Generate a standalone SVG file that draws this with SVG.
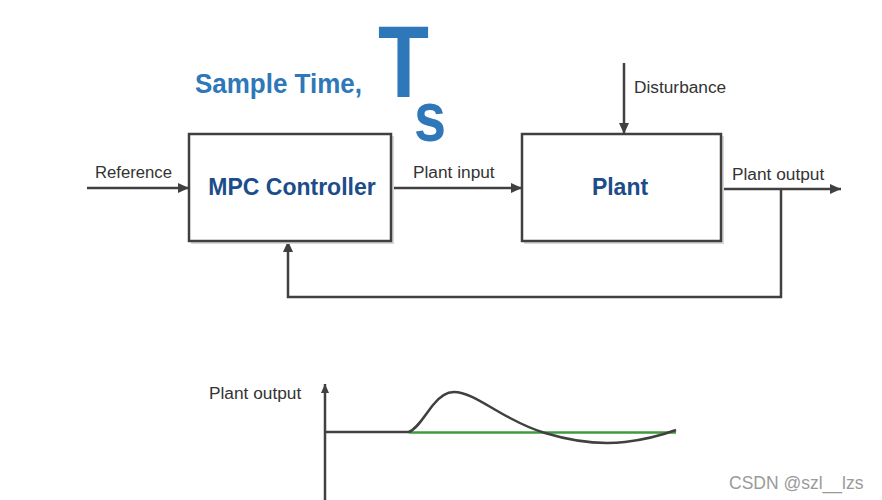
<svg xmlns="http://www.w3.org/2000/svg" width="882" height="500" viewBox="0 0 882 500">
<defs>
<marker id="arr" markerUnits="userSpaceOnUse" markerWidth="12" markerHeight="12" refX="11" refY="6" orient="auto">
<path d="M0,1 L11,6 L0,11 z" fill="#404040"/>
</marker>
<marker id="arrs" markerUnits="userSpaceOnUse" markerWidth="10" markerHeight="10" refX="9" refY="5" orient="auto">
<path d="M0,1 L9,5 L0,9 z" fill="#404040"/>
</marker>
<style>
.ln{fill:none;stroke:#404040;stroke-width:2.5}
.box{fill:#fff;stroke:#404040;stroke-width:2.5}
.sh{fill:#d8d8d8}
.lbl{font-family:"Liberation Sans",Arial,sans-serif;font-size:17.3px;fill:#333}
.nm{font-family:"Liberation Sans",Arial,sans-serif;font-size:23px;font-weight:bold;fill:#1c4c8a;text-anchor:middle}
.ts{font-family:"Liberation Sans",Arial,sans-serif;font-weight:bold;fill:#2e77b8}
</style>
</defs>
<rect width="882" height="500" fill="#fff"/>
<g id="title">
<text class="ts" x="195" y="93" font-size="27" textLength="167" lengthAdjust="spacingAndGlyphs">Sample Time,</text>
<text class="ts" x="378" y="97" font-size="102" textLength="51" lengthAdjust="spacingAndGlyphs">T</text>
<text class="ts" x="414" y="141" font-size="70" textLength="32" lengthAdjust="spacingAndGlyphs">s</text>
</g>
<g id="connectors">
<path class="ln" d="M87,188 H189" marker-end="url(#arr)"/>
<path class="ln" d="M391,188 H522" marker-end="url(#arr)"/>
<path class="ln" d="M721,189 H841" marker-end="url(#arr)"/>
<path class="ln" d="M624,63 V134" marker-end="url(#arr)"/>
<path class="ln" d="M781,189 V297 H288 V241" marker-end="url(#arr)"/>
<text class="lbl" x="95" y="178" textLength="77" lengthAdjust="spacingAndGlyphs">Reference</text>
<text class="lbl" x="413" y="178">Plant input</text>
<text class="lbl" x="732" y="180">Plant output</text>
<text class="lbl" x="634" y="93">Disturbance</text>
</g>
<g id="mpc">
<rect class="sh" x="191" y="136" width="203" height="108"/>
<rect class="box" x="189" y="134" width="202" height="107"/>
<text class="nm" x="292" y="195">MPC Controller</text>
</g>
<g id="plant">
<rect class="sh" x="524" y="136" width="200" height="108"/>
<rect class="box" x="522" y="134" width="199" height="107"/>
<text class="nm" x="620" y="195">Plant</text>
</g>
<g id="chart">
<text class="lbl" x="209" y="399" font-size="17.5">Plant output</text>
<path class="ln" d="M325,500 V384" marker-end="url(#arrs)"/>
<path class="ln" d="M325,432 H409"/>
<path d="M409,432.5 H676" fill="none" stroke="#3f9a3f" stroke-width="2.5"/>
<path class="ln" d="M409,432 C418,428 425,415 433,405 C440,396 446,392 454,392 C470,392 490,408 510,418 C525,426 535,430 545,433 C575,442 600,445 625,442 C650,439 665,434 676,430"/>
</g>
<text x="729" y="489" font-family="'Liberation Sans',Arial,sans-serif" font-size="17.5" fill="#9a9a9a">CSDN @szl__lzs</text>
</svg>
